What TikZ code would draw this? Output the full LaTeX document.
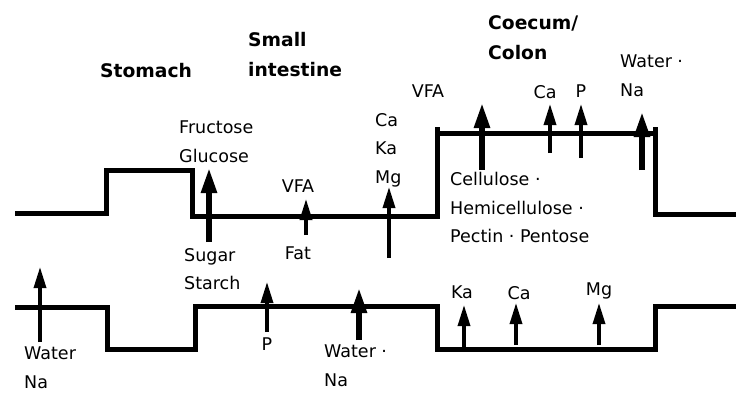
\documentclass[tikz,border=0pt]{standalone}
\usepackage{fontspec}
\setmainfont{DejaVu Sans}
\usetikzlibrary{arrows.meta}

\begin{document}
\begin{tikzpicture}[
    x=1pt, y=-1pt,
    wall/.style={line width=5pt, line join=miter},
    flux/.style={-{Triangle[length=21pt, width=12pt]}, line width=3.3pt},
    bigflux/.style={-{Triangle[length=25pt, width=15pt]}, line width=5.5pt},
    organ/.style={font=\fontsize{18.7}{30}\bfseries\selectfont,
      inner sep=0pt, align=left, anchor=north west},
    lbl/.style={font=\fontsize{17.5}{28.5}\selectfont,
      inner sep=0pt, align=left, anchor=north west},
    ion/.style={lbl, anchor=north}
  ]
    \useasboundingbox (0,0) rectangle (736,394);

    % Section titles
    \node[organ] (stomach) at (100,63) {Stomach};
    \node[organ] (smallint) at (248,32) {Small\\intestine};
    \node[organ] (colon) at (488,15) {Coecum/\\Colon};

    % Gut wall, upper and lower
    \draw[wall] (15,213) -- (106,213) -- (106,170) -- (192,170) -- (192,216)
      -- (437,216) -- (437,133) -- (655,133) -- (655,214) -- (736,214);
    \draw[wall] (437,133) -- (437,127);
    \draw[wall] (655,133) -- (655,127);
    \draw[wall] (15,307) -- (107,307) -- (107,349) -- (195,349) -- (195,306)
      -- (437,306) -- (437,349) -- (655,349) -- (655,306) -- (736,306);

    % Upper labels
    \node[lbl] (monosacch) at (179,121) {Fructose\\Glucose};
    \node[lbl] (sugars) at (184,248) {Sugar\\Starch};
    \node[ion] (vfasi) at (298,180) {VFA};
    \node[ion] (fat) at (298,247) {Fat};
    \node[lbl] (minerals) at (375,113) {Ca\\Ka\\Mg};
    \node[ion] (vfacol) at (428,85) {VFA};
    \node[ion] (cacol) at (545,85) {Ca};
    \node[ion] (pcol) at (581,85) {P};
    \node[lbl] (watercol) at (620,55) {Water ·\\Na};
    \node[lbl] (fibre) at (450,172) {Cellulose ·\\Hemicellulose ·\\Pectin · Pentose};

    % Lower labels
    \node[lbl] (waterst) at (24,347) {Water\\Na};
    \node[ion] (psi) at (267,338) {P};
    \node[lbl] (watersi) at (324,345) {Water ·\\Na};
    \node[ion] (kaout) at (462,286) {Ka};
    \node[ion] (caout) at (519,286) {Ca};
    \node[ion] (mgout) at (599,283) {Mg};

    % Arrow ends
    \coordinate (glc-a) at (209,242); \coordinate (glc-b) at (209,168);
    \coordinate (vfasi-a) at (306,235); \coordinate (vfasi-b) at (306,199);
    \coordinate (min-a) at (389,258); \coordinate (min-b) at (389,187);
    \coordinate (vfacol-a) at (482,170); \coordinate (vfacol-b) at (482,103);
    \coordinate (cacol-a) at (550,153); \coordinate (cacol-b) at (550,104);
    \coordinate (pcol-a) at (581,158); \coordinate (pcol-b) at (581,104);
    \coordinate (wcol-a) at (642,170); \coordinate (wcol-b) at (642,112);
    \coordinate (wst-a) at (40,342); \coordinate (wst-b) at (40,267);
    \coordinate (psi-a) at (267,332); \coordinate (psi-b) at (267,282);
    \coordinate (wsi-a) at (359,340); \coordinate (wsi-b) at (359,288);
    \coordinate (ka-a) at (464,348); \coordinate (ka-b) at (464,305);
    \coordinate (ca-a) at (516,345); \coordinate (ca-b) at (516,303);
    \coordinate (mg-a) at (599,345); \coordinate (mg-b) at (599,303);

    % Arrows
    \draw[bigflux] (glc-a) -- (glc-b);
    \draw[flux] (vfasi-a) -- (vfasi-b);
    \draw[flux] (min-a) -- (min-b);
    \draw[bigflux] (vfacol-a) -- (vfacol-b);
    \draw[flux] (cacol-a) -- (cacol-b);
    \draw[flux] (pcol-a) -- (pcol-b);
    \draw[bigflux] (wcol-a) -- (wcol-b);
    \draw[flux] (wst-a) -- (wst-b);
    \draw[flux] (psi-a) -- (psi-b);
    \draw[bigflux] (wsi-a) -- (wsi-b);
    \draw[flux] (ka-a) -- (ka-b);
    \draw[flux] (ca-a) -- (ca-b);
    \draw[flux] (mg-a) -- (mg-b);
  \end{tikzpicture}
\end{document}
